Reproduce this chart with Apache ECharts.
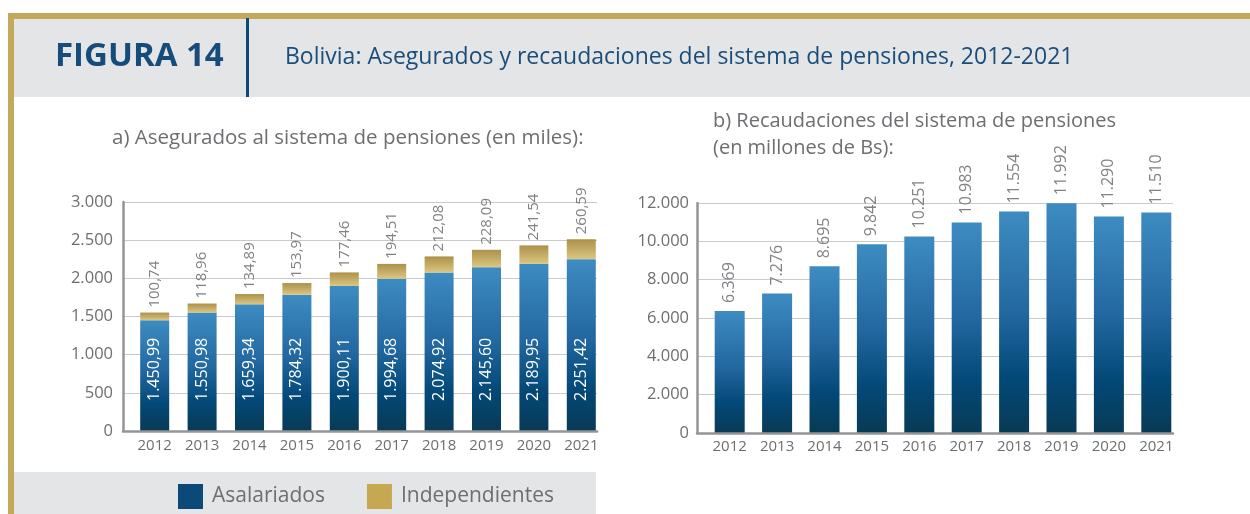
<!DOCTYPE html>
<html>
<head>
<meta charset="utf-8">
<script src="https://cdn.jsdelivr.net/npm/echarts@6/dist/echarts.min.js"></script>
<style>
html,body{margin:0;padding:0;background:#fff;}
#c{width:1250px;height:514px;}
</style>
</head>
<body>
<div id="c"></div>
<script>
// ---- data ----
var years = ['2012','2013','2014','2015','2016','2017','2018','2019','2020','2021'];
var asalariados = [1450.99, 1550.98, 1659.34, 1784.32, 1900.11, 1994.68, 2074.92, 2145.60, 2189.95, 2251.42];
var independientes = [100.74, 118.96, 134.89, 153.97, 177.46, 194.51, 212.08, 228.09, 241.54, 260.59];
var recaudaciones = [6369, 7276, 8695, 9842, 10251, 10983, 11554, 11992, 11290, 11510];
var leftAxis = {min: 0, max: 3000, interval: 500};
var rightAxis = {min: 0, max: 12000, interval: 2000};

var headerLabel = 'FIGURA 14';
var headerTitle = 'Bolivia: Asegurados y recaudaciones del sistema de pensiones, 2012-2021';
var subA = 'a) Asegurados al sistema de pensiones (en miles):';
var subB1 = 'b) Recaudaciones del sistema de pensiones';
var subB2 = '(en millones de Bs):';

// ---- helpers ----
function fmt(v, dec) {
  var s = v.toFixed(dec);
  var parts = s.split('.');
  var ip = parts[0].replace(/\B(?=(\d{3})+(?!\d))/g, '.');
  return dec > 0 ? ip + ',' + parts[1] : ip;
}
var FONT = '"Open Sans", Lato, sans-serif';
var GRAY = '#6d6e71';
var LGRAY = '#808285';
var AXIS = '#939598';
var GRID = '#c9cacc';

function blueGrad() {
  return new echarts.graphic.LinearGradient(0, 0, 0, 1, [
    {offset: 0, color: '#3d8cc1'},
    {offset: 0.45, color: '#2368a0'},
    {offset: 0.75, color: '#034978'},
    {offset: 1, color: '#083a55'}
  ]);
}
function goldGrad() {
  return new echarts.graphic.LinearGradient(0, 0, 0, 1, [
    {offset: 0, color: '#ad9149'},
    {offset: 1, color: '#dac682'}
  ]);
}

var chart = echarts.init(document.getElementById('c'), null, {renderer: 'canvas'});

var option = {
  animation: false,
  textStyle: {fontFamily: FONT},
  graphic: [
    {type: 'rect', shape: {x: 14, y: 19, width: 1236, height: 78}, style: {fill: '#e4e5e7'}, z: 0},
    {type: 'rect', shape: {x: 8, y: 13, width: 1242, height: 6}, style: {fill: '#c3aa5b'}, z: 1},
    {type: 'rect', shape: {x: 8, y: 13, width: 6, height: 501}, style: {fill: '#c3aa5b'}, z: 1},
    {type: 'rect', shape: {x: 246, y: 18, width: 3, height: 79}, style: {fill: '#0e4a7b'}, z: 1},
    {type: 'rect', shape: {x: 14, y: 472, width: 582, height: 42}, style: {fill: '#e4e5e7'}, z: 0},
    {type: 'text', x: 55, y: 57, z: 2, style: {text: headerLabel, fill: '#154c7c', font: 'bold 33px ' + FONT, verticalAlign: 'middle', textVerticalAlign: 'middle'}},
    {type: 'text', x: 285, y: 57, z: 2, style: {text: headerTitle, fill: '#1b4d7b', font: '23px ' + FONT, verticalAlign: 'middle', textVerticalAlign: 'middle'}},
    {type: 'text', x: 112, y: 138, z: 2, style: {text: subA, fill: GRAY, font: '20.5px ' + FONT, verticalAlign: 'middle', textVerticalAlign: 'middle'}},
    {type: 'text', x: 713, y: 121, z: 2, style: {text: subB1, fill: GRAY, font: '20px ' + FONT, verticalAlign: 'middle', textVerticalAlign: 'middle'}},
    {type: 'text', x: 713, y: 148, z: 2, style: {text: subB2, fill: GRAY, font: '20px ' + FONT, verticalAlign: 'middle', textVerticalAlign: 'middle'}}
  ],
  legend: {
    left: 178, top: 484, padding: 0,
    itemWidth: 25, itemHeight: 25, itemGap: 42,
    icon: 'rect',
    selectedMode: false,
    textStyle: {fontSize: 21, color: GRAY, fontFamily: FONT, padding: [0, 0, 0, 4]},
    data: [
      {name: 'Asalariados', itemStyle: {color: '#0b4a78'}},
      {name: 'Independientes', itemStyle: {color: '#c6a852'}}
    ]
  },
  grid: [
    {left: 123, top: 202, width: 474, height: 229},
    {left: 131, top: 202, width: 474, height: 229},
    {left: 697, top: 203, width: 476, height: 230},
    {left: 706, top: 203, width: 474, height: 230}
  ],
  xAxis: [
    {gridIndex: 0, type: 'value', min: 0, max: 1, z: 10,
     axisLine: {show: true, onZero: false, lineStyle: {color: AXIS, width: 2.5}},
     axisTick: {show: false}, axisLabel: {show: false}, splitLine: {show: false}},
    {gridIndex: 1, type: 'category', data: years,
     axisLine: {show: false}, axisTick: {show: false},
     axisLabel: {color: GRAY, fontSize: 15, margin: 7, fontFamily: FONT}},
    {gridIndex: 2, type: 'value', min: 0, max: 1, z: 10,
     axisLine: {show: true, onZero: false, lineStyle: {color: AXIS, width: 2.5}},
     axisTick: {show: false}, axisLabel: {show: false}, splitLine: {show: false}},
    {gridIndex: 3, type: 'category', data: years,
     axisLine: {show: false}, axisTick: {show: false},
     axisLabel: {color: GRAY, fontSize: 15, margin: 6, fontFamily: FONT}}
  ],
  yAxis: [
    {gridIndex: 0, type: 'value', min: leftAxis.min, max: leftAxis.max, interval: leftAxis.interval,
     axisLine: {show: true, lineStyle: {color: AXIS, width: 2.5}}, axisTick: {show: false},
     axisLabel: {color: GRAY, fontSize: 16.5, margin: 10, fontFamily: FONT, formatter: function (v) { return fmt(v, 0); }},
     splitLine: {show: true, lineStyle: {color: GRID, width: 1}}},
    {gridIndex: 1, type: 'value', min: leftAxis.min, max: leftAxis.max, show: false, splitLine: {show: false}},
    {gridIndex: 2, type: 'value', min: rightAxis.min, max: rightAxis.max, interval: rightAxis.interval,
     axisLine: {show: true, lineStyle: {color: AXIS, width: 2.5}}, axisTick: {show: false},
     axisLabel: {color: GRAY, fontSize: 16.5, margin: 8, fontFamily: FONT, formatter: function (v) { return fmt(v, 0); }},
     splitLine: {show: true, lineStyle: {color: GRID, width: 1}}},
    {gridIndex: 3, type: 'value', min: rightAxis.min, max: rightAxis.max, show: false, splitLine: {show: false}}
  ],
  series: [
    {
      name: 'Asalariados', type: 'bar', stack: 'a', xAxisIndex: 1, yAxisIndex: 1,
      barWidth: 29, data: asalariados,
      itemStyle: {color: blueGrad()},
      label: {show: true, position: 'insideBottom', distance: 30, rotate: 90, align: 'left', verticalAlign: 'middle',
              color: '#ffffff', fontSize: 16, fontFamily: FONT,
              formatter: function (p) { return fmt(p.value, 2); }}
    },
    {
      name: 'Independientes', type: 'bar', stack: 'a', xAxisIndex: 1, yAxisIndex: 1,
      barWidth: 29, data: independientes,
      itemStyle: {color: goldGrad()},
      label: {show: true, position: 'top', distance: 5, rotate: 90, align: 'left', verticalAlign: 'middle',
              color: LGRAY, fontSize: 15, fontFamily: FONT,
              formatter: function (p) { return fmt(p.value, 2); }}
    },
    {
      name: 'Recaudaciones', type: 'bar', xAxisIndex: 3, yAxisIndex: 3,
      barWidth: 30, data: recaudaciones,
      itemStyle: {color: blueGrad()},
      label: {show: true, position: 'top', distance: 8, rotate: 90, align: 'left', verticalAlign: 'middle',
              color: LGRAY, fontSize: 16, fontFamily: FONT,
              formatter: function (p) { return fmt(p.value, 0); }}
    }
  ]
};
chart.setOption(option);
</script>
</body>
</html>
